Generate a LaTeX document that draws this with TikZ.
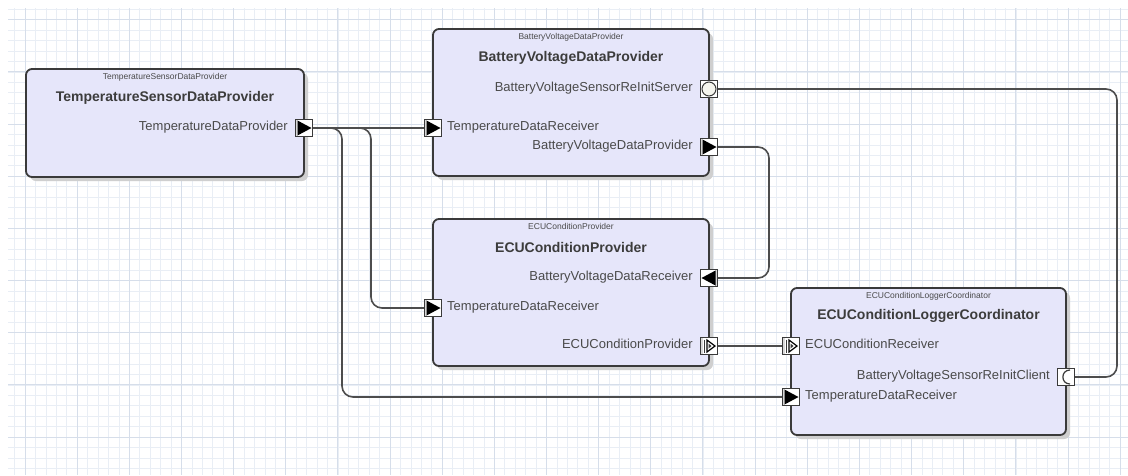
\documentclass[tikz,border=0pt]{standalone}
\usepackage{fontspec}
\setmainfont{Liberation Sans}
\usetikzlibrary{shadows,calc}
\definecolor{gridminor}{HTML}{E9EEF5}
\definecolor{gridmajor}{HTML}{D6DEEA}
\definecolor{boxfill}{HTML}{E6E6FA}
\definecolor{boxline}{HTML}{3A3A3A}
\definecolor{wire}{HTML}{4D4D4D}
\definecolor{txt}{HTML}{4A4A4A}
\definecolor{titletxt}{HTML}{3C3C3C}
\definecolor{shade}{HTML}{CFCFCF}
\definecolor{knob}{HTML}{F5F5EE}
\definecolor{portside}{HTML}{D8D8D8}

\begin{document}
\begin{tikzpicture}[x=1pt,y=-1pt,
  comp/.style={draw=boxline, fill=boxfill, line width=1.8pt, rounded corners=6pt,
    inner sep=0pt, rectangle,
    general shadow={fill=shade, shadow xshift=4pt, shadow yshift=-4pt}},
  port/.style={draw=boxline, fill=white, line width=1pt, rectangle,
    minimum size=17pt, inner sep=0pt},
  sendport/.style={port, path picture={
    \fill[portside] (path picture bounding box.south west) rectangle ([xshift=2.5pt]path picture bounding box.north west);
    \fill[black] ([shift={(2pt,7.5pt)}]path picture bounding box.west)
      -- ([xshift=-1pt]path picture bounding box.east)
      -- ([shift={(2pt,-7.5pt)}]path picture bounding box.west) -- cycle;}},
  leftport/.style={port, path picture={
    \fill[portside] (path picture bounding box.south east) rectangle ([xshift=-2.5pt]path picture bounding box.north east);
    \fill[black] ([shift={(-2pt,7.5pt)}]path picture bounding box.east)
      -- ([xshift=1pt]path picture bounding box.west)
      -- ([shift={(-2pt,-7.5pt)}]path picture bounding box.east) -- cycle;}},
  serverport/.style={port, path picture={
    \draw[boxline, fill=knob, line width=1pt] (path picture bounding box.center) circle[radius=7pt];}},
  clientport/.style={port, path picture={
    \draw[boxline, line width=1.2pt]
      ([shift={(4pt,7pt)}]path picture bounding box.center)
      .. controls ([shift={(-5.5pt,7pt)}]path picture bounding box.center)
      and ([shift={(-5.5pt,-7pt)}]path picture bounding box.center)
      .. ([shift={(4pt,-7pt)}]path picture bounding box.center);}},
  modeport/.style={port, path picture={
    \fill[portside] (path picture bounding box.south west) rectangle ([xshift=2.5pt]path picture bounding box.north west);
    \draw[boxline, line width=1.6pt]
      ([shift={(-4.5pt,6.5pt)}]path picture bounding box.center)
      -- ([shift={(-4.5pt,-6.5pt)}]path picture bounding box.center);
    \draw[black, line width=1.2pt, line join=miter]
      ([shift={(-2pt,6pt)}]path picture bounding box.center)
      -- ([shift={(6pt,0pt)}]path picture bounding box.center)
      -- ([shift={(-2pt,-6pt)}]path picture bounding box.center) -- cycle;
    \fill[boxline] ([shift={(-0.5pt,2.5pt)}]path picture bounding box.center)
      -- ([shift={(2.5pt,0pt)}]path picture bounding box.center)
      -- ([shift={(-0.5pt,-2.5pt)}]path picture bounding box.center) -- cycle;}},
  wire/.style={draw=wire, line width=1.6pt, rounded corners=11pt},
  plab/.style={font=\fontsize{13}{15}\selectfont, text=txt, inner sep=0pt},
  ttl/.style={font=\bfseries\fontsize{14}{16}\selectfont, text=titletxt, inner sep=0pt},
  typ/.style={font=\fontsize{8.5}{10}\selectfont, text=txt, inner sep=0pt}
]
\useasboundingbox (0,0) rectangle (1128,475);
\fill[white] (0,0) rectangle (1128,475);

% background grid
\begin{scope}
  \clip (8,8) rectangle (1128,475);
  \foreach \i in {0,...,108}
    \draw[gridminor, line width=0.7pt] ({4.14+10.43*\i},0) -- ++(0,475);
  \foreach \j in {0,...,45}
    \draw[gridminor, line width=0.7pt] (0,{9.37+10.43*\j}) -- ++(1128,0);
  \foreach \k in {0,...,21}
    \draw[gridmajor, line width=1pt] ({25+52.15*\k},0) -- ++(0,475);
  \foreach \k in {0,...,8}
    \draw[gridmajor, line width=1pt] (0,{19.8+52.15*\k}) -- ++(1128,0);
\end{scope}

% components
\node[comp, minimum width=278pt, minimum height=108pt] (tsdp) at (165,123) {};
\node[comp, minimum width=276pt, minimum height=147pt] (bvdp) at (571,102.5) {};
\node[comp, minimum width=276pt, minimum height=147pt] (ecp) at (571,292.5) {};
\node[comp, minimum width=275pt, minimum height=147pt] (eclc) at (928.5,361.5) {};

% component headers
\node[typ] (tsdpT) at ($(tsdp.north)+(0,9)$) {TemperatureSensorDataProvider};
\node[ttl] (tsdpN) at ($(tsdp.north)+(0,30)$) {TemperatureSensorDataProvider};
\node[typ] (bvdpT) at ($(bvdp.north)+(0,9)$) {BatteryVoltageDataProvider};
\node[ttl] (bvdpN) at ($(bvdp.north)+(0,30)$) {BatteryVoltageDataProvider};
\node[typ] (ecpT) at ($(ecp.north)+(0,8)$) {ECUConditionProvider};
\node[ttl] (ecpN) at ($(ecp.north)+(0,29)$) {ECUConditionProvider};
\node[typ] (eclcT) at ($(eclc.north)+(0,9)$) {ECUConditionLoggerCoordinator};
\node[ttl] (eclcN) at ($(eclc.north)+(0,29)$) {ECUConditionLoggerCoordinator};

% port anchors
\coordinate (p1c) at (304,128);
\coordinate (btc) at (433,128);
\coordinate (bsc) at (709,89);
\coordinate (bpc) at (709,147);
\coordinate (erc) at (709,278);
\coordinate (etc) at (433,308);
\coordinate (emc) at (709,346);
\coordinate (lmc) at (791,346);
\coordinate (lcc) at (1066,377);
\coordinate (ltc) at (791,397);

% port outlines used for routing
\path (p1c) node[port, draw=none, fill=none] (p1) {}
      (btc) node[port, draw=none, fill=none] (b_tdr) {}
      (bsc) node[port, draw=none, fill=none] (b_srv) {}
      (bpc) node[port, draw=none, fill=none] (b_bvdp) {}
      (erc) node[port, draw=none, fill=none] (e_bvdr) {}
      (etc) node[port, draw=none, fill=none] (e_tdr) {}
      (emc) node[port, draw=none, fill=none] (e_ecp) {}
      (lmc) node[port, draw=none, fill=none] (l_ecr) {}
      (lcc) node[port, draw=none, fill=none] (l_cli) {}
      (ltc) node[port, draw=none, fill=none] (l_tdr) {};

% connectors
\draw[wire] (p1.east) -- (b_tdr.west);
\draw[wire] (p1.east) -| (371,308) -- (e_tdr.west);
\draw[wire] (p1.east) -| (342,397) -- (l_tdr.west);
\draw[wire] (b_bvdp.east) -| (769,278) -- (e_bvdr.east);
\draw[wire] (b_srv.east) -| (1117,377) -- (l_cli.east);
\draw[wire] (e_ecp.east) -- (l_ecr.west);

% port symbols
\node[sendport] (p1s) at (p1c) {};
\node[sendport] (b_tdrs) at (btc) {};
\node[serverport] (b_srvs) at (bsc) {};
\node[sendport] (b_bvdps) at (bpc) {};
\node[leftport] (e_bvdrs) at (erc) {};
\node[sendport] (e_tdrs) at (etc) {};
\node[modeport] (e_ecps) at (emc) {};
\node[modeport] (l_ecrs) at (lmc) {};
\node[clientport] (l_clis) at (lcc) {};
\node[sendport] (l_tdrs) at (ltc) {};

% port labels
\node[plab, anchor=mid east] (p1L) at ([xshift=-7pt]p1.west) {TemperatureDataProvider};
\node[plab, anchor=mid west] (b_tdrL) at ([xshift=5pt]b_tdr.east) {TemperatureDataReceiver};
\node[plab, anchor=mid east] (b_srvL) at ([xshift=-7pt]b_srv.west) {BatteryVoltageSensorReInitServer};
\node[plab, anchor=mid east] (b_bvdpL) at ([xshift=-7pt]b_bvdp.west) {BatteryVoltageDataProvider};
\node[plab, anchor=mid east] (e_bvdrL) at ([xshift=-7pt]e_bvdr.west) {BatteryVoltageDataReceiver};
\node[plab, anchor=mid west] (e_tdrL) at ([xshift=5pt]e_tdr.east) {TemperatureDataReceiver};
\node[plab, anchor=mid east] (e_ecpL) at ([xshift=-7pt]e_ecp.west) {ECUConditionProvider};
\node[plab, anchor=mid west] (l_ecrL) at ([xshift=5pt]l_ecr.east) {ECUConditionReceiver};
\node[plab, anchor=mid east] (l_cliL) at ([xshift=-7pt]l_cli.west) {BatteryVoltageSensorReInitClient};
\node[plab, anchor=mid west] (l_tdrL) at ([xshift=5pt]l_tdr.east) {TemperatureDataReceiver};
\end{tikzpicture}
\end{document}
